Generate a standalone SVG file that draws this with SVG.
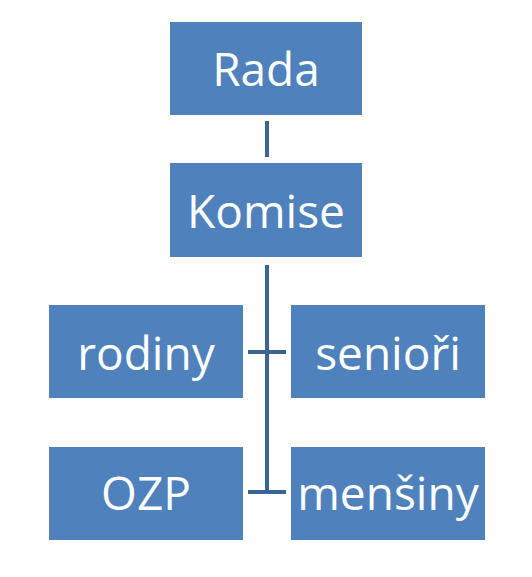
<svg xmlns="http://www.w3.org/2000/svg" width="532" height="577" viewBox="0 0 532 577">
<style>
.box{fill:#4f81bd;}
.lbl{fill:#ffffff;font-family:"Open Sans","Liberation Sans",sans-serif;font-size:46px;text-anchor:middle;}
.conn{stroke:#3b6494;stroke-width:4;fill:none;}
</style>
<rect width="532" height="577" fill="#ffffff"/>
<g id="connectors">
<line class="conn" x1="267" y1="121" x2="267" y2="157"/>
<line class="conn" x1="267" y1="265" x2="267" y2="494"/>
<line class="conn" x1="248" y1="352" x2="286" y2="352"/>
<line class="conn" x1="248" y1="492" x2="286" y2="492"/>
</g>
<g id="rada"><rect class="box" x="170" y="22" width="192" height="93"/><text class="lbl" x="266" y="86">Rada</text></g>
<g id="komise"><rect class="box" x="170" y="163" width="192" height="94"/><text class="lbl" x="266" y="228">Komise</text></g>
<g id="rodiny"><rect class="box" x="49" y="305" width="194" height="93"/><text class="lbl" x="146" y="370">rodiny</text></g>
<g id="seniori"><rect class="box" x="291" y="305" width="194" height="93"/><text class="lbl" x="388" y="370">senioři</text></g>
<g id="ozp"><rect class="box" x="49" y="447" width="194" height="93"/><text class="lbl" x="146" y="510">OZP</text></g>
<g id="mensiny"><rect class="box" x="291" y="447" width="194" height="93"/><text class="lbl" x="388" y="510">menšiny</text></g>
</svg>
